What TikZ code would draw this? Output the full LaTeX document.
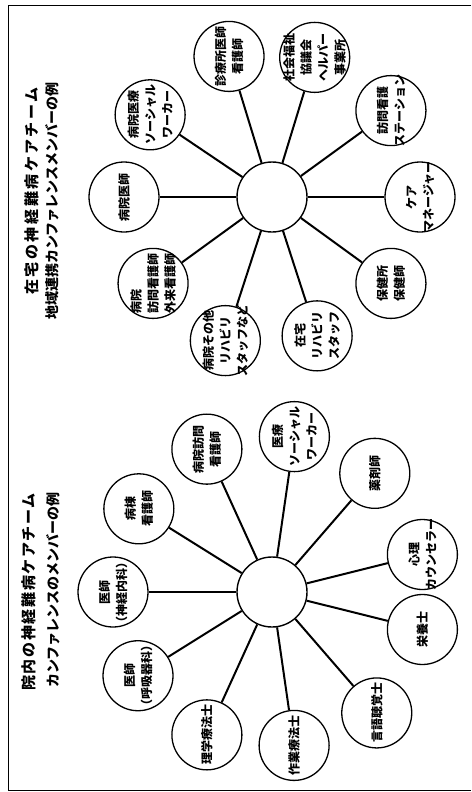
\documentclass[tikz,border=0pt]{standalone}
\usepackage{fontspec}
\setmainfont{Noto Sans CJK JP}
\newfontfamily\jp{Noto Sans CJK JP}
\newfontfamily\jpA[LetterSpace=17]{Noto Sans CJK JP}
\newfontfamily\jpB[LetterSpace=11]{Noto Sans CJK JP}
\usetikzlibrary{calc}
\begin{document}
\begin{tikzpicture}[x=1pt,y=-1pt,
  hub/.style={circle,draw,line width=1.4pt,minimum size=70pt,inner sep=0pt},
  member/.style={circle,draw,line width=1.3pt,minimum size=70pt,inner sep=0pt},
  mtext/.style={rotate=90,align=center,inner sep=0pt,font=\jp\bfseries\fontsize{12}{17}\selectfont},
  spoke/.style={line width=2pt},
  titleA/.style={rotate=90,inner sep=0pt,font=\bfseries\fontsize{15}{16}\selectfont},
  titleB/.style={rotate=90,inner sep=0pt,font=\jp\bfseries\fontsize{14}{16}\selectfont}]
\useasboundingbox (0,0) rectangle (471,792);
\draw[line width=1pt] (471,6) -- (8,6) -- (8,790) -- (471,790);

% ---------- top: 在宅 ----------
\node[titleA] (ta1) at (32,191) {\jpA\bfseries 在宅の神経難病ケアチーム};
\node[titleB] (ta2) at (52,201) {地域連携カンファレンスメンバーの例};
\node[hub] (c1) at (272,197) {};
\foreach \n/\a/\d/\t/\al in {
  a1/180/148/{病院医師}/center,
  a2/-146/147/{病院医療\\ソーシャル\\ワーカー}/center,
  a3/-107/147/{診療所医師\\看護師}/center,
  a4/-73/146/{社会福祉\\協議会\\ヘルパー\\事業所}/center,
  a5/-36/147/{訪問看護\\ステーション}/center,
  a6/0/148/{ケア\\マネージャー}/center,
  a7/36/147/{保健所\\保健師}/center,
  a8/72/146/{在宅\\リハビリ\\スタッフ}/center,
  a9/108/151/{病院その他\\リハビリ\\スタッフなど}/center,
  a10/144/147/{病院\\訪問看護師\\外来看護師}/left}
{
  \node[member] (\n) at ($(c1)+(\a:\d)$) {};
  \node[mtext,align=\al] (\n t) at (\n) {\t};
  \draw[spoke] (c1) -- (\n);
}

% ---------- bottom: 院内 ----------
\node[titleA] (tb1) at (29,592) {\jpB\bfseries 院内の神経難病ケアチーム};
\node[titleB] (tb2) at (53,590) {カンファレンスのメンバーの例};
\node[hub] (c2) at (272,592) {};
\foreach \n/\a/\d/\t in {
  b1/180/159/{医師\\（神経内科）},
  b2/-148/157/{病棟\\看護師},
  b3/-114.5/157/{病院訪問\\看護師},
  b4/-81.8/157/{医療\\ソーシャル\\ワーカー},
  b5/-49.1/157/{薬剤師},
  b6/-14/155/{心理\\カウンセラー},
  b7/14/155/{栄養士},
  b8/49.1/160/{言語聴覚士},
  b9/81.8/155/{作業療法士},
  b10/114.5/157/{理学療法士},
  b11/148/158/{医師\\（呼吸器科）}}
{
  \node[member] (\n) at ($(c2)+(\a:\d)$) {};
  \node[mtext] (\n t) at (\n) {\t};
  \draw[spoke] (c2) -- (\n);
}
\end{tikzpicture}
\end{document}
